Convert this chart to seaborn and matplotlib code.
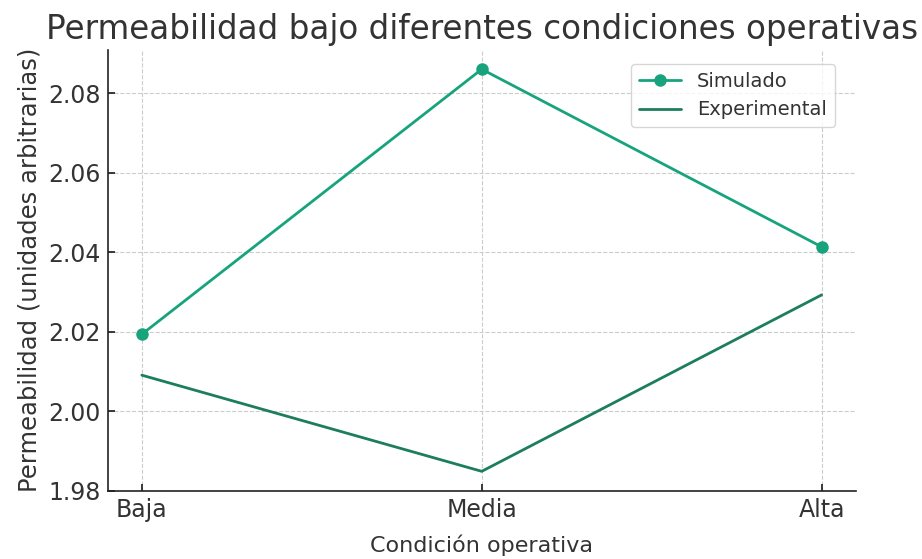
import matplotlib
matplotlib.use("Agg")
import matplotlib.pyplot as plt
import seaborn as sns
import pandas as pd

# Datos
condiciones = ["Baja", "Media", "Alta"]
simulado = [2.0194, 2.0861, 2.0414]
experimental = [2.0091, 1.9849, 2.0293]

COLOR_SIM = "#17a37c"
COLOR_EXP = "#1c7e5e"

sns.set_theme(style="whitegrid")
plt.rcParams["font.family"] = ["DejaVu Sans"]

df = pd.DataFrame({
    "Condición": condiciones * 2,
    "Permeabilidad": simulado + experimental,
    "Serie": ["Simulado"] * 3 + ["Experimental"] * 3,
})

fig = plt.figure(figsize=(9.22, 5.59), dpi=100)
ax = fig.add_axes([0.117, 0.122, 0.811, 0.789])

sns.lineplot(data=df[df["Serie"] == "Simulado"], x="Condición", y="Permeabilidad",
             ax=ax, color=COLOR_SIM, marker="o", markersize=9, markeredgewidth=0,
             linewidth=2, label="Simulado", sort=False)
sns.lineplot(data=df[df["Serie"] == "Experimental"], x="Condición", y="Permeabilidad",
             ax=ax, color=COLOR_EXP, linewidth=2, label="Experimental", sort=False)

ax.set_ylim(1.98, 2.091)
ax.set_yticks([1.98, 2.00, 2.02, 2.04, 2.06, 2.08])
ax.set_yticklabels([f"{v:.2f}" for v in [1.98, 2.00, 2.02, 2.04, 2.06, 2.08]])

ax.grid(True, linestyle="--", color="#cccccc", linewidth=0.8)
for side in ["top", "right"]:
    ax.spines[side].set_visible(False)
for side in ["left", "bottom"]:
    ax.spines[side].set_visible(True)
    ax.spines[side].set_color("#222222")
    ax.spines[side].set_linewidth(1.2)

ax.tick_params(axis="both", direction="in", length=5, color="#222222",
               labelsize=17, labelcolor="#333333", left=True, bottom=True, pad=5)

ax.set_title("Permeabilidad bajo diferentes condiciones operativas",
             fontsize=23.5, color="#333333", pad=8)
ax.set_xlabel("Condición operativa", fontsize=16, color="#333333", labelpad=9)
ax.set_ylabel("Permeabilidad (unidades arbitrarias)", fontsize=17.5, color="#333333",
              labelpad=5)

leg = ax.legend(loc="upper right", fontsize=14, frameon=True,
                bbox_to_anchor=(0.985, 0.99), handlelength=2.2)
for t in leg.get_texts():
    t.set_color("#333333")

fig.savefig("out.png", dpi=100)
